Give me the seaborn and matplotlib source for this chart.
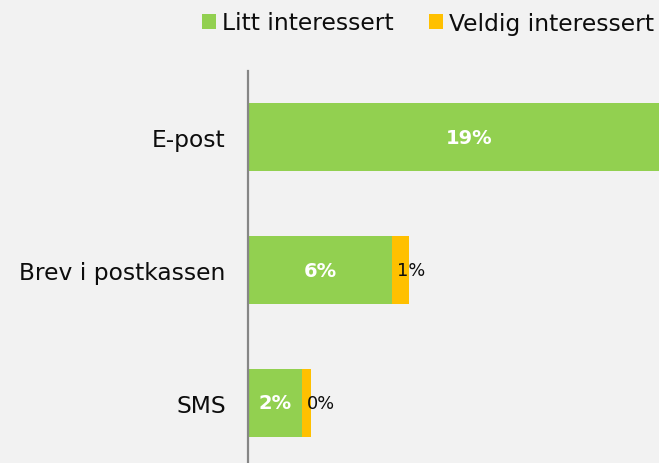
import matplotlib
matplotlib.use("Agg")
import matplotlib.pyplot as plt
import seaborn as sns
import pandas as pd
from matplotlib.patches import Patch

# Share of respondents interested in each reminder channel (%)
channels = ["E-post", "Brev i postkassen", "SMS"]
litt = [19.0, 6.2, 2.3]          # Litt interessert
veldig = [0.0, 0.7, 0.4]         # Veldig interessert
series_names = ["Litt interessert", "Veldig interessert"]

green = "#92D050"
orange = "#FFC000"
bg = "#F2F2F2"
ink = "#0D0D0D"

df = pd.DataFrame({"kanal": channels, "litt": litt, "veldig": veldig})
df["total"] = df["litt"] + df["veldig"]

sns.set_theme(style="white")
plt.rcParams["font.family"] = ["DejaVu Sans"]

fig = plt.figure(figsize=(6.59, 4.64), dpi=100, facecolor=bg)
ax = fig.add_axes([248 / 659, -6 / 464, 411 / 659, 398 / 464])
ax.set_facecolor(bg)

# stacked: total in orange behind, green segment on top
sns.barplot(data=df, y="kanal", x="total", color=orange, saturation=1,
            width=0.513, orient="h", ax=ax, linewidth=0)
sns.barplot(data=df, y="kanal", x="litt", color=green, saturation=1,
            width=0.513, orient="h", ax=ax, linewidth=0)

ax.set_xlim(0, 17.64)
ax.set_ylim(2.5, -0.5)
ax.set_xlabel("")
ax.set_ylabel("")
ax.set_xticks([])
ax.tick_params(axis="y", length=0, pad=16, labelsize=16.8, labelcolor=ink)

for s in ["top", "right", "bottom"]:
    ax.spines[s].set_visible(False)
ax.spines["left"].set_color("#868686")
ax.spines["left"].set_linewidth(1.6)

# data labels
for i, row in df.iterrows():
    ax.text(row["litt"] / 2, i, f"{row['litt']:.0f}%", ha="center", va="center",
            color="white", fontsize=14, fontweight="bold")
    if row["veldig"] > 0:
        ax.annotate(f"{row['veldig']:.0f}%", xy=(row["litt"], i), xytext=(5, 0),
                    textcoords="offset pixels", ha="left", va="center",
                    color=ink, fontsize=12.8)

handles = [Patch(facecolor=green, edgecolor="none"),
           Patch(facecolor=orange, edgecolor="none")]
fig.legend(handles, series_names, loc="center", bbox_to_anchor=(428 / 659, 1 - 24 / 464),
           ncol=2, frameon=False, fontsize=16.8, handlelength=0.6, handleheight=0.6,
           handletextpad=0.25, columnspacing=1.5, labelcolor=ink)

fig.savefig("out.png", dpi=100, facecolor=bg)
